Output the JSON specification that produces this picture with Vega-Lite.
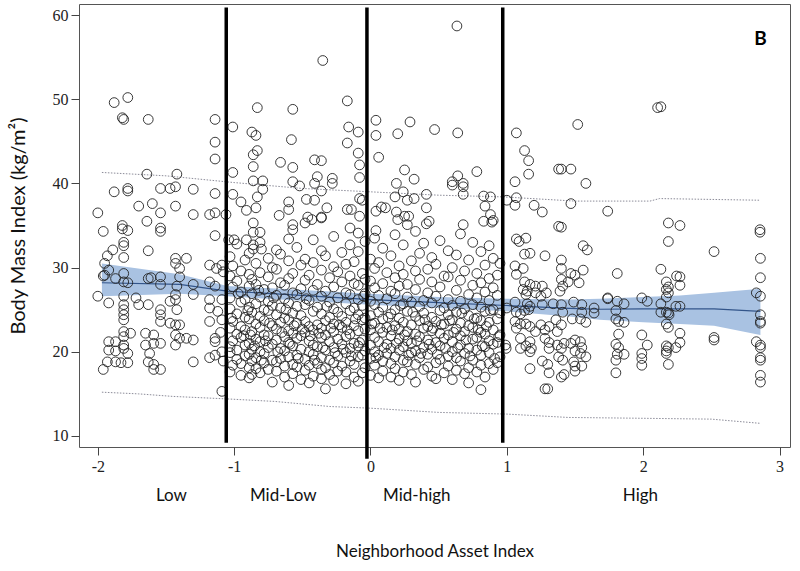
{
"$schema":"https://vega.github.io/schema/vega-lite/v6.json",
"width":711,"height":443,
"autosize":{"type":"none"},
"padding":{"left":79,"top":4,"right":10,"bottom":124},
"background":"white",
"config":{"view":{"stroke":"#555","strokeWidth":1}},
"datasets":{
"fit":[{"x":-1.97,"lo":26.6,"fit":28.2,"hi":30.5},{"x":-1.4,"lo":26.9,"fit":28.0,"hi":29.2},{"x":-1.05,"lo":26.6,"fit":27.2,"hi":27.8},{"x":-0.66,"lo":26.2,"fit":26.85,"hi":27.5},{"x":0.0,"lo":25.6,"fit":26.2,"hi":26.9},{"x":0.5,"lo":25.2,"fit":25.85,"hi":26.5},{"x":1.0,"lo":24.8,"fit":25.5,"hi":26.3},{"x":1.46,"lo":24.2,"fit":25.15,"hi":26.2},{"x":1.68,"lo":23.8,"fit":25.05,"hi":26.3},{"x":2.0,"lo":23.5,"fit":25.1,"hi":26.5},{"x":2.27,"lo":23.3,"fit":25.1,"hi":26.7},{"x":2.52,"lo":23.1,"fit":25.1,"hi":27.0},{"x":2.86,"lo":22.0,"fit":24.8,"hi":27.5}],
"pi":[{"b":"u","x":-1.97,"y":41.3},{"b":"u","x":-1.5,"y":40.9},{"b":"u","x":-1.0,"y":40.1},{"b":"u","x":-0.5,"y":39.4},{"b":"u","x":0.0,"y":39.0},{"b":"u","x":0.5,"y":38.6},{"b":"u","x":0.97,"y":38.4},{"b":"u","x":1.5,"y":37.9},{"b":"u","x":2.05,"y":37.9},{"b":"u","x":2.12,"y":38.2},{"b":"u","x":2.86,"y":38.0},
{"b":"l","x":-1.97,"y":15.2},{"b":"l","x":-1.7,"y":15.0},{"b":"l","x":-1.45,"y":14.7},{"b":"l","x":-1.05,"y":14.4},{"b":"l","x":-0.7,"y":14.1},{"b":"l","x":-0.3,"y":13.5},{"b":"l","x":0.0,"y":13.3},{"b":"l","x":0.5,"y":12.8},{"b":"l","x":1.0,"y":12.6},{"b":"l","x":1.45,"y":12.2},{"b":"l","x":2.0,"y":12.1},{"b":"l","x":2.5,"y":12.0},{"b":"l","x":2.86,"y":11.5}],
"vl":[{"x":-1.058,"y":60.9,"y2":9.2},{"x":-0.026,"y":60.9,"y2":7.3},{"x":0.97,"y":60.9,"y2":9.2}],
"lab":[{"x":-1.46,"y":2.9,"t":"Low"},{"x":-0.64,"y":2.9,"t":"Mid-Low"},{"x":0.34,"y":2.9,"t":"Mid-high"},{"x":1.98,"y":2.9,"t":"High"}],
"pan":[{"x":2.86,"y":57.1,"t":"B"}],
"pts":[
{"x":-1.88,"y":49.6},{"x":-1.78,"y":50.2},{"x":-1.82,"y":47.8},{"x":-1.81,"y":47.6},{"x":-1.63,"y":47.6},{"x":-1.14,"y":47.6},{"x":-1.14,"y":44.9},{"x":-1.14,"y":42.9},{"x":-1.64,"y":41.1},{"x":-1.42,"y":41.1},{"x":-1.88,"y":39.0},{"x":-1.78,"y":39.4},{"x":-1.78,"y":39.1},{"x":-1.54,"y":39.4},{"x":-1.47,"y":39.4},{"x":-1.43,"y":39.6},{"x":-1.30,"y":39.3},{"x":-1.14,"y":38.8},{"x":-2.0,"y":36.5},{"x":-1.70,"y":37.3},{"x":-1.60,"y":37.6},{"x":-1.54,"y":36.5},{"x":-1.43,"y":37.3},{"x":-1.30,"y":36.3},{"x":-1.18,"y":36.3},{"x":-1.14,"y":36.5},{"x":-1.64,"y":35.5},{"x":-1.82,"y":35.0},{"x":-1.78,"y":34.4},{"x":-1.96,"y":34.3},{"x":-1.54,"y":34.7},{"x":-1.54,"y":34.3},{"x":-1.82,"y":34.6},{"x":-1.14,"y":33.8},
{"x":-1.81,"y":33.0},{"x":-1.81,"y":32.6},{"x":-1.89,"y":32.1},{"x":-1.93,"y":31.4},{"x":-1.95,"y":30.5},{"x":-1.81,"y":31.2},{"x":-1.92,"y":29.7},{"x":-1.87,"y":28.7},{"x":-1.95,"y":29.1},{"x":-1.96,"y":29.0},{"x":-1.63,"y":32.0},{"x":-1.81,"y":29.3},{"x":-1.81,"y":28.3},{"x":-1.78,"y":28.2},{"x":-2.0,"y":26.6},{"x":-1.92,"y":25.8},{"x":-1.81,"y":26.6},{"x":-1.81,"y":25.6},{"x":-1.81,"y":25.0},{"x":-1.81,"y":24.4},{"x":-1.81,"y":23.8},{"x":-1.81,"y":22.4},{"x":-1.81,"y":21.8},{"x":-1.76,"y":22.2},{"x":-1.81,"y":20.8},{"x":-1.81,"y":20.4},{"x":-1.78,"y":19.8},{"x":-1.78,"y":18.7},{"x":-1.83,"y":18.7},{"x":-1.92,"y":21.2},{"x":-1.87,"y":21.2},{"x":-1.92,"y":20.2},{"x":-1.87,"y":20.1},{"x":-1.93,"y":18.8},{"x":-1.87,"y":18.8},{"x":-1.96,"y":17.9},{"x":-1.72,"y":26.4},{"x":-1.70,"y":25.6},{"x":-1.63,"y":25.6},{"x":-1.63,"y":28.7},{"x":-1.61,"y":28.8},{"x":-1.54,"y":28.9},{"x":-1.54,"y":28.0},{"x":-1.54,"y":25.0},{"x":-1.54,"y":24.4},{"x":-1.54,"y":23.6},{"x":-1.65,"y":22.2},{"x":-1.59,"y":22.0},{"x":-1.65,"y":20.8},{"x":-1.59,"y":21.0},{"x":-1.54,"y":21.0},{"x":-1.62,"y":19.8},{"x":-1.63,"y":18.8},{"x":-1.59,"y":18.5},{"x":-1.54,"y":17.9},{"x":-1.59,"y":17.9},{"x":-1.43,"y":31.1},{"x":-1.43,"y":30.5},{"x":-1.40,"y":29.9},{"x":-1.35,"y":31.1},{"x":-1.40,"y":28.9},{"x":-1.42,"y":27.8},{"x":-1.43,"y":26.8},{"x":-1.47,"y":26.0},{"x":-1.43,"y":26.2},{"x":-1.42,"y":25.0},{"x":-1.47,"y":23.4},{"x":-1.43,"y":23.2},{"x":-1.40,"y":23.2},{"x":-1.43,"y":22.0},{"x":-1.40,"y":21.6},{"x":-1.43,"y":20.8},{"x":-1.35,"y":21.6},{"x":-1.30,"y":21.4},{"x":-1.30,"y":26.8},{"x":-1.30,"y":28.0},{"x":-1.30,"y":18.8},{"x":-1.18,"y":30.3},{"x":-1.13,"y":29.9},{"x":-1.18,"y":28.3},{"x":-1.14,"y":27.8},{"x":-1.18,"y":26.2},{"x":-1.18,"y":25.2},{"x":-1.18,"y":23.6},{"x":-1.14,"y":21.6},{"x":-1.14,"y":21.2},{"x":-1.18,"y":19.3},{"x":-1.14,"y":19.6},{"x":-1.09,"y":20.0},{"x":-1.09,"y":15.3},{"x":-1.09,"y":30.3},{"x":-1.08,"y":29.5},{"x":-1.09,"y":26.2},{"x":-1.09,"y":23.8},{"x":-1.10,"y":22.3},{"x":-1.08,"y":18.9},{"x":-1.12,"y":24.8},
{"x":-1.01,"y":46.7},{"x":-0.83,"y":49.0},{"x":-0.57,"y":48.8},{"x":-0.35,"y":54.6},{"x":-0.58,"y":45.2},{"x":-0.87,"y":46.1},{"x":-0.84,"y":45.7},{"x":-0.83,"y":43.9},{"x":-0.86,"y":43.4},{"x":-0.86,"y":42.0},{"x":-0.66,"y":42.5},{"x":-0.57,"y":41.9},{"x":-1.01,"y":41.3},{"x":-0.86,"y":40.3},{"x":-0.79,"y":40.3},{"x":-0.57,"y":40.2},{"x":-0.41,"y":42.8},{"x":-0.36,"y":42.7},{"x":-0.39,"y":40.8},{"x":-1.01,"y":38.7},{"x":-0.79,"y":39.3},{"x":-0.83,"y":38.4},{"x":-0.52,"y":39.7},{"x":-0.41,"y":40.0},{"x":-1.06,"y":36.3},{"x":-0.95,"y":37.8},{"x":-0.91,"y":36.8},{"x":-0.84,"y":37.1},{"x":-0.60,"y":37.8},{"x":-0.60,"y":36.9},{"x":-0.67,"y":36.2},{"x":-0.47,"y":38.1},{"x":-0.41,"y":38.0},{"x":-0.46,"y":36.0},{"x":-0.43,"y":35.7},{"x":-0.36,"y":36.0},{"x":-0.32,"y":37.1},{"x":-0.86,"y":35.3},{"x":-0.57,"y":35.1},{"x":-0.57,"y":34.5},{"x":-0.48,"y":35.3},{"x":-0.17,"y":49.8},{"x":-0.16,"y":46.7},{"x":-0.09,"y":46.1},{"x":-0.17,"y":44.8},{"x":-0.09,"y":43.6},{"x":-0.08,"y":42.2},{"x":-0.08,"y":40.7},{"x":-0.36,"y":39.1},{"x":-0.28,"y":40.6},{"x":-0.28,"y":40.0},{"x":-0.17,"y":36.9},{"x":-0.14,"y":36.9},{"x":-0.08,"y":38.2},{"x":-0.06,"y":38.0},{"x":-0.08,"y":36.1},{"x":-0.15,"y":34.7},{"x":-0.36,"y":35.9},{"x":-1.04,"y":33.3},{"x":-1.0,"y":33.3},{"x":-0.86,"y":34.2},{"x":-0.81,"y":34.2},{"x":-0.86,"y":32.7},{"x":-0.80,"y":32.2},{"x":-0.86,"y":32.2},{"x":-0.91,"y":33.3},
{"x":-1.03,"y":17.6},{"x":-1.03,"y":19.9},{"x":-1.03,"y":20.6},{"x":-1.03,"y":22.8},{"x":-1.03,"y":25.1},{"x":-1.03,"y":26.4},{"x":-1.03,"y":29.0},{"x":-1.03,"y":31.3},
{"x":-1.01,"y":18.4},{"x":-1.01,"y":21.3},{"x":-1.01,"y":23.6},{"x":-1.01,"y":27.7},{"x":-1.01,"y":30.2},
{"x":-0.98,"y":19.1},{"x":-0.98,"y":20.2},{"x":-0.98,"y":22.1},{"x":-0.98,"y":24.5},{"x":-0.98,"y":28.4},{"x":-0.98,"y":32.8},
{"x":-0.95,"y":17.2},{"x":-0.95,"y":18.6},{"x":-0.95,"y":21.7},{"x":-0.95,"y":23.0},{"x":-0.95,"y":25.9},{"x":-0.95,"y":27.1},{"x":-0.95,"y":29.6},
{"x":-0.92,"y":19.5},{"x":-0.92,"y":20.8},{"x":-0.92,"y":22.6},{"x":-0.92,"y":24.1},{"x":-0.92,"y":26.2},{"x":-0.92,"y":30.9},
{"x":-0.89,"y":16.9},{"x":-0.89,"y":18.1},{"x":-0.89,"y":19.7},{"x":-0.89,"y":21.0},{"x":-0.89,"y":23.9},{"x":-0.89,"y":25.3},{"x":-0.89,"y":27.8},{"x":-0.89,"y":29.2},{"x":-0.89,"y":31.7},
{"x":-0.87,"y":17.3},{"x":-0.87,"y":18.9},{"x":-0.87,"y":20.3},{"x":-0.87,"y":22.4},{"x":-0.87,"y":24.7},{"x":-0.87,"y":26.9},{"x":-0.87,"y":28.6},
{"x":-0.84,"y":18.0},{"x":-0.84,"y":19.3},{"x":-0.84,"y":21.5},{"x":-0.84,"y":23.3},{"x":-0.84,"y":25.7},{"x":-0.84,"y":28.0},{"x":-0.84,"y":30.5},
{"x":-0.81,"y":17.5},{"x":-0.81,"y":20.0},{"x":-0.81,"y":21.2},{"x":-0.81,"y":22.9},{"x":-0.81,"y":24.2},{"x":-0.81,"y":26.5},{"x":-0.81,"y":29.4},{"x":-0.81,"y":33.0},
{"x":-0.78,"y":18.7},{"x":-0.78,"y":19.8},{"x":-0.78,"y":22.0},{"x":-0.78,"y":23.7},{"x":-0.78,"y":25.0},{"x":-0.78,"y":27.4},
{"x":-0.75,"y":17.9},{"x":-0.75,"y":20.5},{"x":-0.75,"y":21.9},{"x":-0.75,"y":24.9},{"x":-0.75,"y":26.0},{"x":-0.75,"y":28.9},{"x":-0.75,"y":31.1},
{"x":-0.72,"y":16.4},{"x":-0.72,"y":19.0},{"x":-0.72,"y":20.9},{"x":-0.72,"y":23.1},{"x":-0.72,"y":25.5},{"x":-0.72,"y":27.6},{"x":-0.72,"y":30.0},
{"x":-0.69,"y":17.7},{"x":-0.69,"y":18.8},{"x":-0.69,"y":21.4},{"x":-0.69,"y":22.7},{"x":-0.69,"y":24.4},{"x":-0.69,"y":26.7},{"x":-0.69,"y":29.8},{"x":-0.69,"y":32.1},
{"x":-0.66,"y":19.2},{"x":-0.66,"y":20.4},{"x":-0.66,"y":23.5},{"x":-0.66,"y":25.2},{"x":-0.66,"y":28.2},{"x":-0.66,"y":31.6},
{"x":-0.63,"y":17.0},{"x":-0.63,"y":18.3},{"x":-0.63,"y":20.1},{"x":-0.63,"y":21.8},{"x":-0.63,"y":24.0},{"x":-0.63,"y":26.3},{"x":-0.63,"y":27.9},
{"x":-0.60,"y":16.0},{"x":-0.60,"y":19.4},{"x":-0.60,"y":21.1},{"x":-0.60,"y":22.5},{"x":-0.60,"y":23.8},{"x":-0.60,"y":25.8},{"x":-0.60,"y":28.7},{"x":-0.60,"y":30.8},{"x":-0.60,"y":33.4},
{"x":-0.57,"y":17.4},{"x":-0.57,"y":18.5},{"x":-0.57,"y":20.7},{"x":-0.57,"y":22.2},{"x":-0.57,"y":24.6},{"x":-0.57,"y":27.0},{"x":-0.57,"y":29.3},
{"x":-0.54,"y":18.2},{"x":-0.54,"y":19.6},{"x":-0.54,"y":21.6},{"x":-0.54,"y":23.4},{"x":-0.54,"y":25.4},{"x":-0.54,"y":26.8},{"x":-0.54,"y":32.4},
{"x":-0.51,"y":16.7},{"x":-0.51,"y":20.3},{"x":-0.51,"y":21.9},{"x":-0.51,"y":24.3},{"x":-0.51,"y":27.5},{"x":-0.51,"y":30.3},
{"x":-0.48,"y":17.8},{"x":-0.48,"y":19.1},{"x":-0.48,"y":22.3},{"x":-0.48,"y":23.6},{"x":-0.48,"y":25.6},{"x":-0.48,"y":28.5},{"x":-0.48,"y":31.0},
{"x":-0.45,"y":16.3},{"x":-0.45,"y":18.4},{"x":-0.45,"y":20.0},{"x":-0.45,"y":21.3},{"x":-0.45,"y":23.0},{"x":-0.45,"y":26.1},{"x":-0.45,"y":29.1},
{"x":-0.42,"y":17.1},{"x":-0.42,"y":19.7},{"x":-0.42,"y":20.8},{"x":-0.42,"y":22.6},{"x":-0.42,"y":24.8},{"x":-0.42,"y":27.3},{"x":-0.42,"y":30.6},{"x":-0.42,"y":33.3},
{"x":-0.39,"y":18.6},{"x":-0.39,"y":20.6},{"x":-0.39,"y":23.2},{"x":-0.39,"y":25.3},{"x":-0.39,"y":28.0},
{"x":-0.36,"y":16.8},{"x":-0.36,"y":17.9},{"x":-0.36,"y":19.3},{"x":-0.36,"y":21.7},{"x":-0.36,"y":22.8},{"x":-0.36,"y":24.5},{"x":-0.36,"y":26.6},{"x":-0.36,"y":29.7},{"x":-0.36,"y":32.0},
{"x":-0.33,"y":15.6},{"x":-0.33,"y":18.1},{"x":-0.33,"y":20.2},{"x":-0.33,"y":22.0},{"x":-0.33,"y":23.7},{"x":-0.33,"y":27.2},{"x":-0.33,"y":31.4},
{"x":-0.30,"y":17.3},{"x":-0.30,"y":19.0},{"x":-0.30,"y":21.2},{"x":-0.30,"y":24.1},{"x":-0.30,"y":25.9},{"x":-0.30,"y":28.8},
{"x":-0.27,"y":16.6},{"x":-0.27,"y":18.7},{"x":-0.27,"y":20.5},{"x":-0.27,"y":22.4},{"x":-0.27,"y":23.3},{"x":-0.27,"y":25.1},{"x":-0.27,"y":27.7},{"x":-0.27,"y":30.1},{"x":-0.27,"y":33.7},
{"x":-0.24,"y":17.7},{"x":-0.24,"y":19.5},{"x":-0.24,"y":21.5},{"x":-0.24,"y":24.7},{"x":-0.24,"y":26.4},{"x":-0.24,"y":29.5},
{"x":-0.21,"y":18.3},{"x":-0.21,"y":20.9},{"x":-0.21,"y":22.9},{"x":-0.21,"y":24.2},{"x":-0.21,"y":28.3},{"x":-0.21,"y":31.8},
{"x":-0.18,"y":16.2},{"x":-0.18,"y":17.6},{"x":-0.18,"y":19.9},{"x":-0.18,"y":21.8},{"x":-0.18,"y":23.5},{"x":-0.18,"y":25.7},{"x":-0.18,"y":27.0},{"x":-0.18,"y":30.4},
{"x":-0.15,"y":18.9},{"x":-0.15,"y":20.4},{"x":-0.15,"y":22.1},{"x":-0.15,"y":24.9},{"x":-0.15,"y":26.8},{"x":-0.15,"y":29.0},{"x":-0.15,"y":32.7},
{"x":-0.12,"y":17.0},{"x":-0.12,"y":18.5},{"x":-0.12,"y":21.0},{"x":-0.12,"y":23.1},{"x":-0.12,"y":25.2},{"x":-0.12,"y":28.1},{"x":-0.12,"y":30.7},
{"x":-0.09,"y":16.5},{"x":-0.09,"y":19.4},{"x":-0.09,"y":20.7},{"x":-0.09,"y":22.5},{"x":-0.09,"y":24.4},{"x":-0.09,"y":26.2},{"x":-0.09,"y":27.9},{"x":-0.09,"y":31.9},{"x":-0.09,"y":34.1},
{"x":-0.06,"y":17.5},{"x":-0.06,"y":19.6},{"x":-0.06,"y":21.4},{"x":-0.06,"y":23.8},{"x":-0.06,"y":25.5},{"x":-0.06,"y":29.3},
{"x":-0.04,"y":18.1},{"x":-0.04,"y":20.1},{"x":-0.04,"y":22.7},{"x":-0.04,"y":24.0},{"x":-0.04,"y":26.9},{"x":-0.04,"y":28.6},{"x":-0.04,"y":33.1},
{"x":-1.02,"y":24.0},{"x":-0.97,"y":26.9},{"x":-0.93,"y":21.9},{"x":-0.90,"y":24.9},{"x":-0.88,"y":22.0},{"x":-0.85,"y":20.7},{"x":-0.82,"y":27.3},{"x":-0.80,"y":19.0},{"x":-0.77,"y":21.3},{"x":-0.74,"y":23.4},{"x":-0.71,"y":26.4},{"x":-0.68,"y":20.0},{"x":-0.65,"y":22.3},{"x":-0.62,"y":25.0},{"x":-0.59,"y":20.9},{"x":-0.56,"y":23.1},{"x":-0.53,"y":19.2},{"x":-0.50,"y":22.7},{"x":-0.47,"y":26.3},{"x":-0.44,"y":21.9},{"x":-0.41,"y":19.0},{"x":-0.38,"y":22.2},{"x":-0.35,"y":20.5},{"x":-0.32,"y":25.4},{"x":-0.29,"y":22.8},{"x":-0.26,"y":19.9},{"x":-0.23,"y":23.2},{"x":-0.20,"y":20.3},{"x":-0.17,"y":22.6},{"x":-0.14,"y":19.5},{"x":-0.11,"y":23.9},{"x":-0.08,"y":21.1},{"x":-0.05,"y":26.6},
{"x":0.634,"y":58.7},{"x":0.04,"y":47.5},{"x":0.04,"y":45.7},{"x":0.06,"y":43.1},{"x":0.20,"y":45.9},{"x":0.29,"y":47.3},{"x":0.47,"y":46.4},{"x":0.64,"y":46.0},{"x":0.78,"y":41.4},{"x":0.25,"y":41.6},{"x":0.32,"y":40.5},{"x":0.19,"y":40.0},{"x":0.60,"y":40.2},{"x":0.60,"y":39.8},{"x":0.68,"y":40.0},{"x":0.68,"y":39.6},{"x":0.64,"y":40.9},{"x":0.24,"y":39.0},{"x":0.18,"y":38.4},{"x":0.27,"y":38.0},{"x":0.32,"y":38.2},{"x":0.41,"y":38.7},{"x":0.68,"y":38.7},{"x":0.41,"y":37.1},{"x":0.04,"y":36.7},{"x":0.08,"y":37.2},{"x":0.11,"y":37.1},{"x":0.19,"y":36.6},{"x":0.20,"y":35.7},{"x":0.25,"y":36.1},{"x":0.28,"y":36.1},{"x":0.27,"y":35.1},{"x":0.04,"y":34.4},{"x":0.83,"y":38.5},{"x":0.88,"y":38.4},{"x":0.84,"y":37.3},{"x":0.88,"y":36.3},{"x":0.83,"y":35.5},{"x":0.89,"y":35.4},{"x":0.90,"y":35.6},{"x":0.68,"y":35.1},{"x":0.43,"y":35.5},{"x":0.41,"y":35.2},
{"x":0.00,"y":17.2},{"x":0.00,"y":19.2},{"x":0.00,"y":20.8},{"x":0.00,"y":22.6},{"x":0.00,"y":24.3},{"x":0.00,"y":26.0},{"x":0.00,"y":28.4},{"x":0.00,"y":31.0},
{"x":0.03,"y":18.4},{"x":0.03,"y":20.0},{"x":0.03,"y":21.7},{"x":0.03,"y":23.4},{"x":0.03,"y":25.6},{"x":0.03,"y":27.6},{"x":0.03,"y":29.9},{"x":0.03,"y":33.5},
{"x":0.06,"y":16.9},{"x":0.06,"y":19.6},{"x":0.06,"y":21.2},{"x":0.06,"y":24.7},{"x":0.06,"y":26.7},{"x":0.06,"y":30.6},
{"x":0.09,"y":17.7},{"x":0.09,"y":18.9},{"x":0.09,"y":22.3},{"x":0.09,"y":23.9},{"x":0.09,"y":25.3},{"x":0.09,"y":28.1},{"x":0.09,"y":32.3},
{"x":0.12,"y":19.8},{"x":0.12,"y":20.9},{"x":0.12,"y":22.9},{"x":0.12,"y":26.3},{"x":0.12,"y":29.4},
{"x":0.15,"y":17.0},{"x":0.15,"y":18.6},{"x":0.15,"y":20.4},{"x":0.15,"y":21.9},{"x":0.15,"y":24.5},{"x":0.15,"y":27.2},{"x":0.15,"y":31.4},
{"x":0.18,"y":18.0},{"x":0.18,"y":19.4},{"x":0.18,"y":23.1},{"x":0.18,"y":25.0},{"x":0.18,"y":26.9},{"x":0.18,"y":28.8},{"x":0.18,"y":33.9},
{"x":0.21,"y":16.6},{"x":0.21,"y":20.2},{"x":0.21,"y":21.5},{"x":0.21,"y":22.7},{"x":0.21,"y":24.0},{"x":0.21,"y":27.8},{"x":0.21,"y":30.2},
{"x":0.24,"y":17.6},{"x":0.24,"y":19.0},{"x":0.24,"y":20.6},{"x":0.24,"y":23.5},{"x":0.24,"y":25.7},{"x":0.24,"y":29.2},{"x":0.24,"y":32.7},
{"x":0.27,"y":18.8},{"x":0.27,"y":21.3},{"x":0.27,"y":22.4},{"x":0.27,"y":24.8},{"x":0.27,"y":26.5},{"x":0.27,"y":28.0},
{"x":0.30,"y":17.3},{"x":0.30,"y":19.9},{"x":0.30,"y":21.0},{"x":0.30,"y":23.2},{"x":0.30,"y":25.9},{"x":0.30,"y":30.8},
{"x":0.33,"y":16.4},{"x":0.33,"y":18.5},{"x":0.33,"y":20.1},{"x":0.33,"y":22.1},{"x":0.33,"y":24.2},{"x":0.33,"y":27.4},{"x":0.33,"y":29.6},{"x":0.33,"y":34.3},
{"x":0.36,"y":19.3},{"x":0.36,"y":21.8},{"x":0.36,"y":23.7},{"x":0.36,"y":25.4},{"x":0.36,"y":28.6},{"x":0.36,"y":31.7},
{"x":0.39,"y":17.9},{"x":0.39,"y":20.5},{"x":0.39,"y":22.8},{"x":0.39,"y":24.6},{"x":0.39,"y":26.1},{"x":0.39,"y":32.9},
{"x":0.42,"y":18.2},{"x":0.42,"y":19.7},{"x":0.42,"y":21.4},{"x":0.42,"y":23.0},{"x":0.42,"y":27.0},{"x":0.42,"y":29.8},
{"x":0.45,"y":17.1},{"x":0.45,"y":20.3},{"x":0.45,"y":22.5},{"x":0.45,"y":24.1},{"x":0.45,"y":25.8},{"x":0.45,"y":28.3},{"x":0.45,"y":31.2},
{"x":0.48,"y":16.8},{"x":0.48,"y":18.7},{"x":0.48,"y":21.1},{"x":0.48,"y":23.6},{"x":0.48,"y":26.6},{"x":0.48,"y":30.4},
{"x":0.51,"y":19.1},{"x":0.51,"y":20.7},{"x":0.51,"y":22.2},{"x":0.51,"y":24.9},{"x":0.51,"y":27.7},{"x":0.51,"y":33.2},
{"x":0.54,"y":17.5},{"x":0.54,"y":21.6},{"x":0.54,"y":23.3},{"x":0.54,"y":25.2},{"x":0.54,"y":29.0},
{"x":0.57,"y":18.3},{"x":0.57,"y":19.5},{"x":0.57,"y":22.0},{"x":0.57,"y":24.4},{"x":0.57,"y":26.2},{"x":0.57,"y":28.9},{"x":0.57,"y":32.0},
{"x":0.60,"y":16.7},{"x":0.60,"y":20.0},{"x":0.60,"y":21.2},{"x":0.60,"y":23.8},{"x":0.60,"y":25.5},{"x":0.60,"y":30.0},
{"x":0.63,"y":17.8},{"x":0.63,"y":19.3},{"x":0.63,"y":22.7},{"x":0.63,"y":24.7},{"x":0.63,"y":27.3},{"x":0.63,"y":31.5},
{"x":0.66,"y":18.9},{"x":0.66,"y":20.8},{"x":0.66,"y":21.9},{"x":0.66,"y":23.4},{"x":0.66,"y":26.0},{"x":0.66,"y":28.5},{"x":0.66,"y":34.0},
{"x":0.69,"y":17.4},{"x":0.69,"y":19.8},{"x":0.69,"y":22.4},{"x":0.69,"y":25.1},{"x":0.69,"y":29.6},
{"x":0.72,"y":16.3},{"x":0.72,"y":18.1},{"x":0.72,"y":20.4},{"x":0.72,"y":23.1},{"x":0.72,"y":24.3},{"x":0.72,"y":26.8},{"x":0.72,"y":30.9},
{"x":0.75,"y":19.0},{"x":0.75,"y":21.5},{"x":0.75,"y":22.9},{"x":0.75,"y":25.6},{"x":0.75,"y":27.9},{"x":0.75,"y":33.0},
{"x":0.78,"y":17.6},{"x":0.78,"y":20.2},{"x":0.78,"y":21.7},{"x":0.78,"y":24.0},{"x":0.78,"y":26.4},{"x":0.78,"y":29.3},
{"x":0.81,"y":15.5},{"x":0.81,"y":18.4},{"x":0.81,"y":19.6},{"x":0.81,"y":22.3},{"x":0.81,"y":23.7},{"x":0.81,"y":25.3},{"x":0.81,"y":28.2},{"x":0.81,"y":31.9},
{"x":0.84,"y":17.0},{"x":0.84,"y":20.6},{"x":0.84,"y":22.1},{"x":0.84,"y":24.8},{"x":0.84,"y":27.1},{"x":0.84,"y":30.3},
{"x":0.87,"y":18.6},{"x":0.87,"y":19.9},{"x":0.87,"y":21.3},{"x":0.87,"y":23.5},{"x":0.87,"y":26.1},{"x":0.87,"y":28.7},{"x":0.87,"y":32.6},
{"x":0.90,"y":17.9},{"x":0.90,"y":20.9},{"x":0.90,"y":22.6},{"x":0.90,"y":25.0},{"x":0.90,"y":27.6},{"x":0.90,"y":31.1},
{"x":0.93,"y":18.7},{"x":0.93,"y":21.1},{"x":0.93,"y":23.9},{"x":0.93,"y":26.7},{"x":0.93,"y":29.1},
{"x":0.95,"y":19.4},{"x":0.95,"y":22.0},{"x":0.95,"y":24.6},{"x":0.95,"y":30.5},
{"x":0.01,"y":23.3},{"x":0.04,"y":19.3},{"x":0.07,"y":22.8},{"x":0.10,"y":20.5},{"x":0.13,"y":24.1},{"x":0.16,"y":22.6},{"x":0.19,"y":21.0},{"x":0.22,"y":25.5},{"x":0.25,"y":22.0},{"x":0.28,"y":19.6},{"x":0.31,"y":24.7},{"x":0.34,"y":21.3},{"x":0.37,"y":19.8},{"x":0.40,"y":23.8},{"x":0.43,"y":20.9},{"x":0.46,"y":22.8},{"x":0.49,"y":19.7},{"x":0.52,"y":23.2},{"x":0.55,"y":20.4},{"x":0.58,"y":23.7},{"x":0.61,"y":22.3},{"x":0.64,"y":20.5},{"x":0.67,"y":24.6},{"x":0.70,"y":21.4},{"x":0.73,"y":19.5},{"x":0.76,"y":23.9},{"x":0.79,"y":22.6},{"x":0.82,"y":20.7},{"x":0.85,"y":23.0},{"x":0.88,"y":24.9},{"x":0.91,"y":19.2},{"x":0.94,"y":21.8},
{"x":1.07,"y":46.0},{"x":1.13,"y":43.9},{"x":1.16,"y":42.7},{"x":1.16,"y":41.1},{"x":1.06,"y":40.2},{"x":1.38,"y":41.7},{"x":1.07,"y":38.3},{"x":1.06,"y":37.4},{"x":1.20,"y":37.4},{"x":1.26,"y":36.6},{"x":1.00,"y":38.0},{"x":1.38,"y":34.9},{"x":1.52,"y":47.0},{"x":2.106,"y":49.0},{"x":2.13,"y":49.1},{"x":1.40,"y":41.7},{"x":1.47,"y":41.7},{"x":1.58,"y":40.0},{"x":1.47,"y":37.6},{"x":1.74,"y":36.7},{"x":1.40,"y":34.8},{"x":2.185,"y":35.3},{"x":2.27,"y":35.0},{"x":2.857,"y":34.5},{"x":2.857,"y":34.2},
{"x":1.07,"y":33.4},{"x":1.14,"y":33.5},{"x":1.09,"y":33.1},{"x":1.56,"y":32.6},{"x":1.59,"y":32.1},{"x":1.28,"y":31.4},{"x":1.13,"y":31.6},{"x":1.17,"y":31.7},{"x":1.06,"y":30.2},{"x":1.12,"y":29.9},{"x":1.07,"y":29.2},{"x":1.40,"y":30.9},{"x":1.40,"y":29.9},{"x":1.47,"y":29.3},{"x":1.50,"y":29.1},{"x":1.56,"y":29.7},{"x":1.40,"y":28.6},{"x":1.41,"y":27.8},{"x":1.39,"y":27.2},{"x":1.45,"y":28.3},{"x":1.53,"y":28.2},{"x":1.13,"y":28.3},{"x":1.17,"y":28.0},{"x":1.21,"y":27.8},{"x":1.26,"y":27.8},{"x":1.12,"y":27.4},{"x":1.15,"y":27.2},{"x":1.14,"y":26.8},{"x":1.21,"y":27.0},{"x":1.25,"y":26.6},{"x":1.29,"y":27.0},{"x":1.06,"y":25.9},{"x":1.15,"y":25.7},{"x":1.17,"y":25.4},{"x":1.16,"y":25.0},{"x":1.26,"y":25.6},{"x":1.34,"y":25.7},{"x":1.40,"y":25.6},{"x":1.41,"y":24.7},{"x":1.49,"y":25.9},{"x":1.55,"y":25.6},{"x":1.55,"y":24.7},{"x":1.64,"y":25.2},{"x":1.64,"y":24.6},{"x":1.74,"y":26.3},{"x":1.48,"y":23.9},{"x":1.54,"y":23.9},{"x":1.58,"y":23.5},{"x":1.07,"y":24.7},{"x":1.10,"y":24.5},{"x":1.13,"y":24.9},{"x":1.06,"y":23.6},{"x":1.10,"y":23.3},{"x":1.14,"y":23.3},{"x":1.07,"y":22.8},{"x":1.17,"y":23.0},{"x":1.21,"y":22.4},{"x":1.25,"y":23.2},{"x":1.28,"y":22.6},{"x":1.31,"y":23.0},{"x":1.36,"y":23.8},{"x":1.40,"y":23.2},{"x":1.37,"y":22.4},{"x":1.10,"y":21.6},{"x":1.17,"y":21.2},{"x":1.14,"y":20.7},{"x":1.10,"y":20.4},{"x":1.18,"y":20.4},{"x":1.17,"y":20.0},{"x":1.28,"y":21.6},{"x":1.31,"y":21.1},{"x":1.31,"y":20.4},{"x":1.37,"y":20.8},{"x":1.40,"y":20.4},{"x":1.42,"y":21.0},{"x":1.38,"y":19.4},{"x":1.41,"y":19.0},{"x":1.26,"y":18.9},{"x":1.30,"y":18.5},{"x":1.47,"y":21.0},{"x":1.50,"y":21.4},{"x":1.54,"y":21.2},{"x":1.55,"y":20.5},{"x":1.50,"y":20.1},{"x":1.54,"y":19.8},{"x":1.58,"y":19.4},{"x":1.49,"y":18.8},{"x":1.50,"y":18.3},{"x":1.55,"y":18.3},{"x":1.17,"y":18.0},{"x":1.31,"y":17.5},{"x":1.40,"y":17.0},{"x":1.42,"y":17.3},{"x":1.50,"y":17.7},{"x":1.28,"y":15.6},{"x":1.30,"y":15.6},{"x":1.00,"y":25.2},{"x":0.99,"y":20.8},{"x":0.995,"y":20.4},
{"x":2.185,"y":33.1},{"x":2.52,"y":31.9},{"x":2.86,"y":31.1},{"x":2.86,"y":28.8},{"x":2.13,"y":29.8},{"x":2.245,"y":29.0},{"x":2.27,"y":28.9},{"x":2.27,"y":27.9},{"x":2.17,"y":28.3},{"x":2.185,"y":27.7},{"x":2.17,"y":27.4},{"x":2.185,"y":27.0},{"x":2.17,"y":26.5},{"x":2.13,"y":25.7},{"x":2.13,"y":24.7},{"x":2.17,"y":24.7},{"x":2.185,"y":24.6},{"x":2.19,"y":24.4},{"x":2.24,"y":25.4},{"x":2.27,"y":25.4},{"x":2.17,"y":23.3},{"x":2.185,"y":22.9},{"x":2.27,"y":22.2},{"x":2.27,"y":21.1},{"x":2.24,"y":20.5},{"x":2.17,"y":20.7},{"x":2.185,"y":20.5},{"x":2.17,"y":20.1},{"x":2.17,"y":19.8},{"x":2.185,"y":18.5},
{"x":1.81,"y":29.3},{"x":1.74,"y":26.4},{"x":1.81,"y":26.0},{"x":1.86,"y":25.7},{"x":1.80,"y":24.9},{"x":1.80,"y":23.9},{"x":1.82,"y":23.6},{"x":1.86,"y":23.5},{"x":1.82,"y":22.1},{"x":1.80,"y":20.9},{"x":1.82,"y":20.5},{"x":1.86,"y":19.7},{"x":1.81,"y":19.7},{"x":1.80,"y":19.0},{"x":1.80,"y":17.5},
{"x":1.99,"y":26.4},{"x":2.03,"y":26.0},{"x":1.99,"y":22.0},{"x":2.03,"y":20.8},{"x":1.99,"y":19.8},{"x":1.99,"y":19.2},{"x":1.99,"y":18.4},{"x":2.52,"y":21.7},{"x":2.52,"y":21.4},
{"x":2.83,"y":27.0},{"x":2.86,"y":26.6},{"x":2.86,"y":24.4},{"x":2.86,"y":23.6},{"x":2.86,"y":23.4},{"x":2.83,"y":21.2},{"x":2.86,"y":20.8},{"x":2.86,"y":20.5},{"x":2.86,"y":19.3},{"x":2.86,"y":19.0},{"x":2.86,"y":17.2},{"x":2.86,"y":16.4}
]},
"layer":[
{"data":{"name":"fit"},"mark":{"type":"area","color":"#a9c2e2","opacity":1},
 "encoding":{
  "x":{"field":"x","type":"quantitative","scale":{"domain":[-2.138,3.077],"nice":false,"zero":false},
   "axis":{"values":[-2,-1,0,1,2,3],"labelExpr":"datum.value < 0 ? '-' + abs(datum.value) : '' + datum.value","title":"Neighborhood Asset Index","domain":false,"grid":false,"tickColor":"#444","tickSize":8,"labelFont":"Liberation Serif","labelFontSize":16,"labelColor":"#222","labelPadding":3,"titleFont":"Lato","titleFontSize":17,"titleFontWeight":"normal","titleColor":"#111","titlePadding":69}},
  "y":{"field":"lo","type":"quantitative","scale":{"domain":[8.69,61.31],"nice":false,"zero":false},
   "axis":{"values":[10,20,30,40,50,60],"format":"d","title":"Body Mass Index (kg/m²)","domain":false,"grid":false,"tickColor":"#444","tickSize":8,"labelFont":"Liberation Serif","labelFontSize":16,"labelColor":"#222","labelPadding":3,"titleFont":"Lato","titleFontSize":20,"titleFontWeight":"normal","titleColor":"#111","titlePadding":24}},
  "y2":{"field":"hi"}}},
{"data":{"name":"fit"},"mark":{"type":"line","color":"#33558a","strokeWidth":1.2},
 "encoding":{"x":{"field":"x","type":"quantitative"},"y":{"field":"fit","type":"quantitative"}}},
{"data":{"name":"pi"},"mark":{"type":"line","color":"#8c8c99","strokeWidth":1,"strokeDash":[1.5,1.5]},
 "encoding":{"x":{"field":"x","type":"quantitative"},"y":{"field":"y","type":"quantitative"},"detail":{"field":"b"}}},
{"data":{"name":"pts"},"mark":{"type":"point","shape":"circle","filled":false,"color":"#222","strokeWidth":0.9,"size":95,"opacity":1},
 "encoding":{"x":{"field":"x","type":"quantitative"},"y":{"field":"y","type":"quantitative"}}},
{"data":{"name":"vl"},"mark":{"type":"rule","color":"black","strokeWidth":3.5},
 "encoding":{"x":{"field":"x","type":"quantitative"},"y":{"field":"y","type":"quantitative"},"y2":{"field":"y2"}}},
{"data":{"name":"lab"},"mark":{"type":"text","font":"Lato","fontSize":17,"color":"#111","baseline":"middle","align":"center"},
 "encoding":{"x":{"field":"x","type":"quantitative"},"y":{"field":"y","type":"quantitative"},"text":{"field":"t"}}},
{"data":{"name":"pan"},"mark":{"type":"text","font":"Lato","fontSize":19,"fontWeight":"bold","color":"#000","baseline":"middle","align":"center"},
 "encoding":{"x":{"field":"x","type":"quantitative"},"y":{"field":"y","type":"quantitative"},"text":{"field":"t"}}}
]
}
